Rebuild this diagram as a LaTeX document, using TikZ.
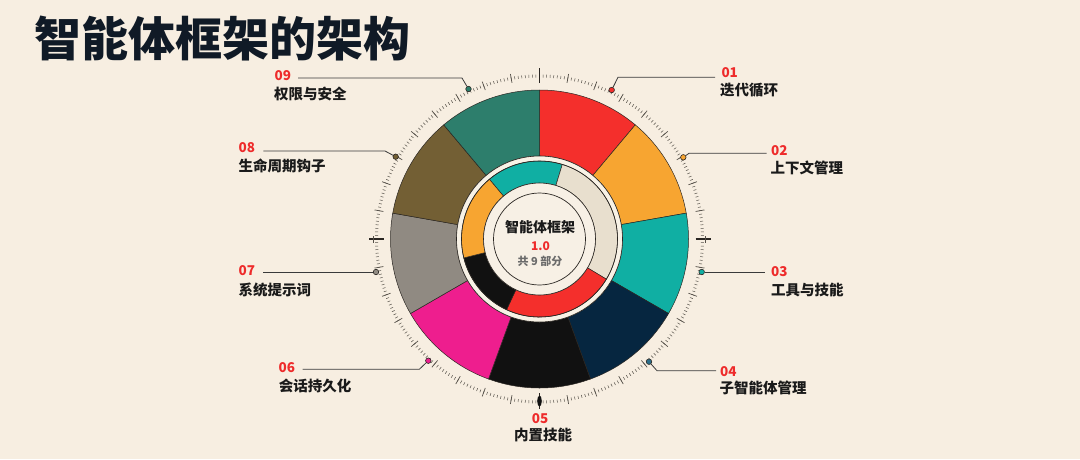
\documentclass[tikz,border=0pt]{standalone}
\usepackage{fontspec}
\setmainfont{Noto Sans CJK SC}
\definecolor{bg}{HTML}{F7EEE1}
\definecolor{titlec}{HTML}{101A26}
\definecolor{edge}{HTML}{2A2622}
\definecolor{w1}{HTML}{F42F2C}
\definecolor{w2}{HTML}{F7A531}
\definecolor{w3}{HTML}{10AFA3}
\definecolor{w4}{HTML}{062640}
\definecolor{w5}{HTML}{111111}
\definecolor{w6}{HTML}{EE1E8E}
\definecolor{w7}{HTML}{908A82}
\definecolor{w8}{HTML}{735F34}
\definecolor{w9}{HTML}{2D7E6C}
\definecolor{d4c}{HTML}{2B6E8A}
\definecolor{beige}{HTML}{E8DFCE}
\definecolor{band}{HTML}{F8F2E6}
\definecolor{disc}{HTML}{F7F0E5}
\definecolor{numc}{HTML}{EE2B2B}
\definecolor{labc}{HTML}{1A1A1A}
\definecolor{tickc}{HTML}{555049}
\definecolor{leadc}{HTML}{3A3A3A}
\definecolor{subc}{HTML}{6B6B6B}
\begin{document}
\begin{tikzpicture}[x=1pt,y=-1pt,
  dotnode/.style={circle, minimum size=5.5pt, inner sep=0pt, draw=edge, line width=0.6pt},
  leader/.style={draw=leadc, line width=0.8pt},
  numlab/.style={inner sep=0pt, text=numc, font=\fontsize{13.5}{14}\selectfont\bfseries},
  txtlab/.style={inner sep=0pt, text=labc, font=\fontsize{14.5}{15}\selectfont\bfseries},
  tickmin/.style={draw=tickc, line width=0.5pt},
  tickmid/.style={draw=tickc, line width=0.7pt},
  tickmaj/.style={draw=edge, line width=1.3pt},
  sector/.style={draw=edge, line width=0.5pt}]
\fill[bg] (0,0) rectangle (1080,459);
\useasboundingbox (0,0) rectangle (1080,459);

% title
\node[anchor=west, inner sep=0pt, text=titlec, font=\fontsize{47}{47}\selectfont\bfseries] (title) at (34,38) {智能体框架的架构};

% wheel
\begin{scope}[shift={(539.5pt,-239pt)}, x=1pt, y=1pt]
  % ticks
  \foreach \i in {0,...,287} {
    \pgfmathsetmacro\ang{\i*1.25}
    \draw[tickmin] (\ang:161.5) -- (\ang:164.5);
  }
  \foreach \a in {0,10,...,350} \draw[tickmid] (\a:158.5) -- (\a:167.5);
  \foreach \a in {0,90,180} \draw[tickmaj] (\a:156) -- (\a:171);
  \draw[tickmid] (166,-3.5) -- (166,3.5);
  \draw[tickmid] (-166,-3.5) -- (-166,3.5);
  % bottom marker
  \draw[edge, line width=0.8pt] (0,-154) -- (0,-170);
  \fill[w5] (0,-162) ellipse[x radius=2.3, y radius=5.5];
  % outer wedges
  \foreach \a/\c in {90/w1, 50/w2, 10/w3, -30/w4, -70/w5, -110/w6, -150/w7, -190/w8, -230/w9}
    \filldraw[sector, fill=\c] (\a:149) arc[start angle=\a, end angle={\a-40}, radius=149]
      -- ({\a-40}:83) arc[start angle={\a-40}, end angle=\a, radius=83] -- cycle;
  % cream band
  \filldraw[fill=band, draw=edge, line width=0.6pt] (0,0) circle[radius=83];
  % inner ring
  \foreach \s/\e/\c in {130/73/w3, 73/-31/beige, -31/-115/w1, -115/-166/w5, 194/130/w2}
    \filldraw[sector, fill=\c] (\s:78) arc[start angle=\s, end angle=\e, radius=78]
      -- (\e:56) arc[start angle=\e, end angle=\s, radius=56] -- cycle;
  \draw[edge, line width=0.6pt] (0,0) circle[radius=78];
  % center disc
  \filldraw[fill=disc, draw=edge, line width=0.6pt] (0,0) circle[radius=56];
  \draw[edge, line width=0.7pt] (0,0) circle[radius=46];
\end{scope}

% center texts
\node[inner sep=0pt, text=labc, font=\fontsize{14}{14}\selectfont\bfseries] (ct1) at (540,227.5) {智能体框架};
\node[inner sep=0pt, text=numc, font=\fontsize{12}{12}\selectfont\bfseries] (ct2) at (540.5,246.3) {1.0};
\node[inner sep=0pt, text=subc, font=\fontsize{11}{11}\selectfont\bfseries] (ct3) at (540,261) {共 9 部分};

% dots
\node[dotnode, fill=w1] (d1) at (611.7,90) {};
\node[dotnode, fill=w2] (d2) at (683.3,157.3) {};
\node[dotnode, fill=w3] (d3) at (701.7,272) {};
\node[dotnode, fill=d4c] (d4) at (649,361.7) {};
\node[dotnode, fill=w6] (d6) at (428.3,360.7) {};
\node[dotnode, fill=w7] (d7) at (376,272) {};
\node[dotnode, fill=w8] (d8) at (395.7,156.7) {};
\node[dotnode, fill=w9] (d9) at (468.5,89) {};

% bends and ends
\coordinate (b1) at (618,77.3);   \coordinate (e1) at (715,77.3);
\coordinate (b2) at (689,153.3);  \coordinate (e2) at (766.7,153.3);
\coordinate (e3) at (765,272);
\coordinate (b4) at (657,370.7);  \coordinate (e4) at (716,370.7);
\coordinate (b6) at (419.3,369.3);\coordinate (e6) at (302.7,369.3);
\coordinate (e7) at (263.3,272);
\coordinate (b8) at (385,151);    \coordinate (e8) at (263.3,151);
\coordinate (b9) at (462,78);     \coordinate (e9) at (298,78);

\draw[leader] (d1) -- (b1) -- (e1);
\draw[leader] (d2) -- (b2) -- (e2);
\draw[leader] (d3) -- (e3);
\draw[leader] (d4) -- (b4) -- (e4);
\draw[leader] (d6) -- (b6) -- (e6);
\draw[leader] (d7) -- (e7);
\draw[leader] (d8) -- (b8) -- (e8);
\draw[leader] (d9) -- (b9) -- (e9);

% labels
\node[numlab, anchor=west] (n1) at (721.3,72.5) {01};
\node[txtlab, anchor=west] (t1) at (720,90) {迭代循环};
\node[numlab, anchor=west] (n2) at (771,150.5) {02};
\node[txtlab, anchor=west] (t2) at (770.3,167.5) {上下文管理};
\node[numlab, anchor=west] (n3) at (771,272) {03};
\node[txtlab, anchor=west] (t3) at (771,290) {工具与技能};
\node[numlab, anchor=west] (n4) at (720,371.7) {04};
\node[txtlab, anchor=west] (t4) at (719.5,388.3) {子智能体管理};
\node[numlab] (n5) at (540.2,419) {05};
\node[txtlab] (t5) at (543,435) {内置技能};
\node[numlab, anchor=west] (n6) at (278.5,367.3) {06};
\node[txtlab, anchor=west] (t6) at (278.7,385.7) {会话持久化};
\node[numlab, anchor=west] (n7) at (238.5,271) {07};
\node[txtlab, anchor=west] (t7) at (238.5,289.7) {系统提示词};
\node[numlab, anchor=west] (n8) at (238.5,148) {08};
\node[txtlab, anchor=west] (t8) at (238.5,166.3) {生命周期钩子};
\node[numlab, anchor=west] (n9) at (274.5,75.5) {09};
\node[txtlab, anchor=west] (t9) at (274,93.5) {权限与安全};
\end{tikzpicture}
\end{document}
